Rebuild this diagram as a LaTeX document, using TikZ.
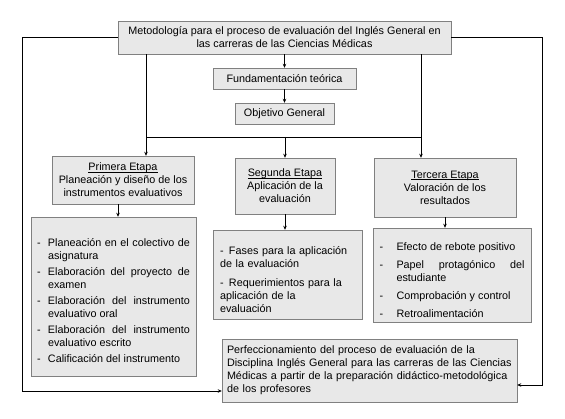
\documentclass[tikz,border=0pt]{standalone}
\usepackage{fontspec}
\setmainfont{Liberation Sans}
\usetikzlibrary{arrows.meta}
\newcommand{\cajafont}{\fontsize{10.8}{13}\selectfont\hyphenpenalty=10000\tolerance=10000}
\newcommand{\guion}[1]{\par\noindent\hangindent=#1\hangafter=1\makebox[#1][l]{-}}
\newcommand{\subrayado}[1]{\setbox0\hbox{#1}\rlap{\rule[-1.6pt]{\wd0}{0.5pt}}\box0}

\begin{document}
\begin{tikzpicture}[x = 1pt, y = -1pt,
caja/.style = {draw = black!50, fill = black!9, inner sep = 0pt, font = \cajafont, align = center},
lista/.style = {caja, align = justify},
flecha/.style = {-{Stealth[length = 4pt, width = 3.5pt]}, line width = 0.8pt},
linea/.style = {line width = 0.8pt}
]
\useasboundingbox (0,0) rectangle (565,419);
\node[caja, minimum width = 333pt, minimum height = 33pt] (Met) at (284.5,37.5) {Metodología para el proceso de evaluación del Inglés General en\\las carreras de las Ciencias Médicas};
\node[caja, minimum width = 143pt, minimum height = 21pt] (Fun) at (284.5,78.5) {Fundamentación teórica};
\node[caja, minimum width = 99pt, minimum height = 21pt] (Obj) at (284.5,113.5) {Objetivo General};
\node[caja, minimum width = 142pt, minimum height = 48pt] (Et1) at (123,180) {\subrayado{Primera Etapa}\\Planeación y diseño de los\\instrumentos evaluativos};
\node[caja, minimum width = 100pt, minimum height = 56pt] (Et2) at (285,186) {\subrayado{Segunda Etapa}\\Aplicación de la\\evaluación};
\node[caja, minimum width = 142pt, minimum height = 59pt] (Et3) at (445,187.5) {\subrayado{Tercera Etapa}\\Valoración de los\\resultados};
% contenidos de cada etapa
\node[lista, text width = 153pt, inner xsep = 6pt, minimum height = 159pt] (Lis1) at (113.5,296.5) {\setlength{\parskip}{3pt}%
\guion{11pt}Planeación en el colectivo de asignatura
\guion{11pt}Elaboración del proyecto de examen
\guion{11pt}Elaboración del instrumento evaluativo oral
\guion{11pt}Elaboración del instrumento evaluativo escrito
\guion{11pt}Calificación del instrumento};
\node[lista, align = left, text width = 135pt, inner xsep = 7pt, minimum height = 89pt] (Lis2) at (287.5,274.5) {\setlength{\parskip}{6pt}%
\guion{9pt}Fases para la aplicación\\de la evaluación
\guion{9pt}Requerimientos para la\\aplicación de la\\evaluación};
\node[lista, text width = 145pt, inner xsep = 6.5pt, minimum height = 94pt] (Lis3) at (452,275) {\setlength{\parskip}{5pt}%
\guion{17pt}Efecto de rebote positivo
\guion{17pt}Papel protagónico del estudiante
\guion{17pt}Comprobación y control
\guion{17pt}Retroalimentación};
\node[caja, align = left, text width = 285pt, inner xsep = 5pt, minimum height = 63pt] (Res) at (369.5,370.5) {Perfeccionamiento del proceso de evaluación de la\\Disciplina Inglés General para las carreras de las Ciencias\\Médicas a partir de la preparación didáctico-metodológica\\de los profesores};
\coordinate (hL) at (146,137);
\coordinate (hR) at (421,137);
\coordinate (cL) at (22,391);
\coordinate (cR) at (542,385);
\foreach \i/\j in {Met/Fun, Fun/Obj}{\draw[flecha] (\i) -- (\j);}
\draw[flecha] (Met.south -| hL) -- (Et1.north -| hL);
\draw[flecha] (Met.south -| hR) -- (Et3.north -| hR);
\draw[linea] (hL) -- (hR);
\draw[flecha] (hL -| Et2) -- (Et2);
\draw[flecha] ([xshift = -5pt]Et1.south) -- ([xshift = -5pt]Et1.south |- Lis1.north);
\foreach \i/\j in {Et2/Lis2, Et3/Lis3}{\draw[flecha] (\i.south) -- (\i.south |- \j.north);}
\draw[flecha] (Met.west) -| (cL) -- (Res.west |- cL);
\draw[flecha] (Met.east) -| (cR) -- (Res.east |- cR);
\end{tikzpicture}
\end{document}
